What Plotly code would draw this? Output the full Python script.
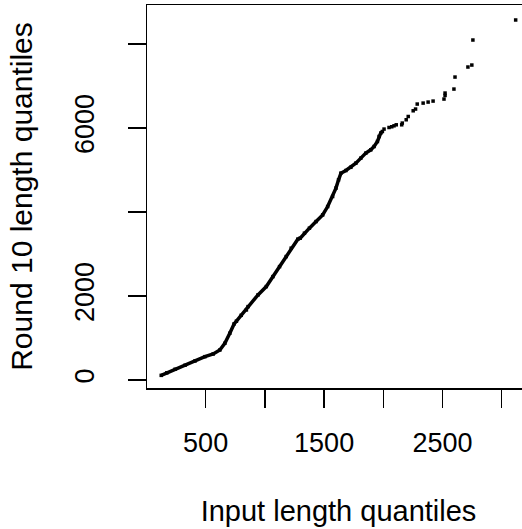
import plotly.graph_objects as go

# Dense part of the Q-Q curve (input quantile, round-10 quantile)
dense_x = [125, 172, 242, 326, 410, 494, 564, 620, 662, 704, 740, 760, 800, 844,
           858, 942, 1012, 1068, 1124, 1180, 1222, 1278, 1298, 1334, 1376, 1432,
           1488, 1530, 1572, 1600, 1622, 1642, 1684, 1726, 1768, 1810, 1852,
           1894, 1922, 1950, 1964, 1978, 1992]
dense_y = [110, 170, 255, 350, 453, 555, 620, 715, 874, 1113, 1335, 1400, 1540, 1668,
           1747, 2026, 2224, 2462, 2700, 2939, 3139, 3353, 3377, 3496, 3615, 3773,
           3932, 4130, 4369, 4569, 4767, 4926, 4988, 5065, 5164, 5283, 5402,
           5481, 5560, 5679, 5799, 5879, 5918]

# Sparse upper tail
tail_x = [2006, 2048, 2071, 2090, 2109, 2155, 2160, 2193, 2210, 2252, 2272, 2286,
          2336, 2378, 2420, 2512, 2521, 2521, 2596, 2605, 2714, 2747, 2756, 3117]
tail_y = [5975, 6013, 6030, 6053, 6077, 6077, 6118, 6197, 6275, 6411, 6452, 6571,
          6594, 6618, 6642, 6690, 6776, 6833, 6928, 7214, 7453, 7500, 8096, 8573]

x_tickvals = [500, 1000, 1500, 2000, 2500, 3000]
x_ticktext = ["500", "", "1500", "", "2500", ""]
y_tickvals = [0, 2000, 4000, 6000, 8000]
y_ticktext = ["0", "2000", "", "6000", ""]

FONT = "Liberation Sans, Arial, Helvetica, sans-serif"

fig = go.Figure()
fig.add_trace(go.Scatter(
    x=dense_x, y=dense_y, mode="lines+markers",
    line=dict(color="black", width=3.5),
    marker=dict(symbol="square", size=3.5, color="black"),
    showlegend=False, hoverinfo="skip"))
fig.add_trace(go.Scatter(
    x=tail_x, y=tail_y, mode="markers",
    marker=dict(symbol="square", size=3.5, color="black", line=dict(width=0)),
    showlegend=False, hoverinfo="skip"))

# The original R device is wider than the 522 px window: the plot box runs
# past the right edge and is clipped there, as in the reference.
fig.update_layout(
    width=532, height=529, autosize=False,
    margin=dict(l=147, r=0, t=5, b=141, pad=0),
    paper_bgcolor="white", plot_bgcolor="white",
    font=dict(family=FONT, color="black"),
    xaxis=dict(
        range=[5, 3238], tickvals=x_tickvals, ticktext=x_ticktext,
        ticks="outside", ticklen=18, tickwidth=1.3, tickcolor="black",
        showline=True, linewidth=1.5, linecolor="black", mirror=True,
        showgrid=False, zeroline=False,
        tickfont=dict(size=27, family=FONT, color="black"),
        ticklabelstandoff=12,
        title=dict(text="Input length quantiles", standoff=44,
                   font=dict(size=29, family=FONT, color="black")),
    ),
    yaxis=dict(
        range=[-191, 8930], tickvals=y_tickvals, ticktext=y_ticktext,
        tickangle=-90,
        ticks="outside", ticklen=18, tickwidth=1.3, tickcolor="black",
        showline=True, linewidth=1.5, linecolor="black", mirror=True,
        showgrid=False, zeroline=False,
        tickfont=dict(size=27, family=FONT, color="black"),
        ticklabelstandoff=23,
        title=dict(text="Round 10 length quantiles", standoff=28,
                   font=dict(size=30, family=FONT, color="black")),
    ),
)

fig.write_html("out.html", config={"displayModeBar": False, "staticPlot": True},
               post_script="document.body.style.margin='0';document.body.style.overflow='hidden';")
